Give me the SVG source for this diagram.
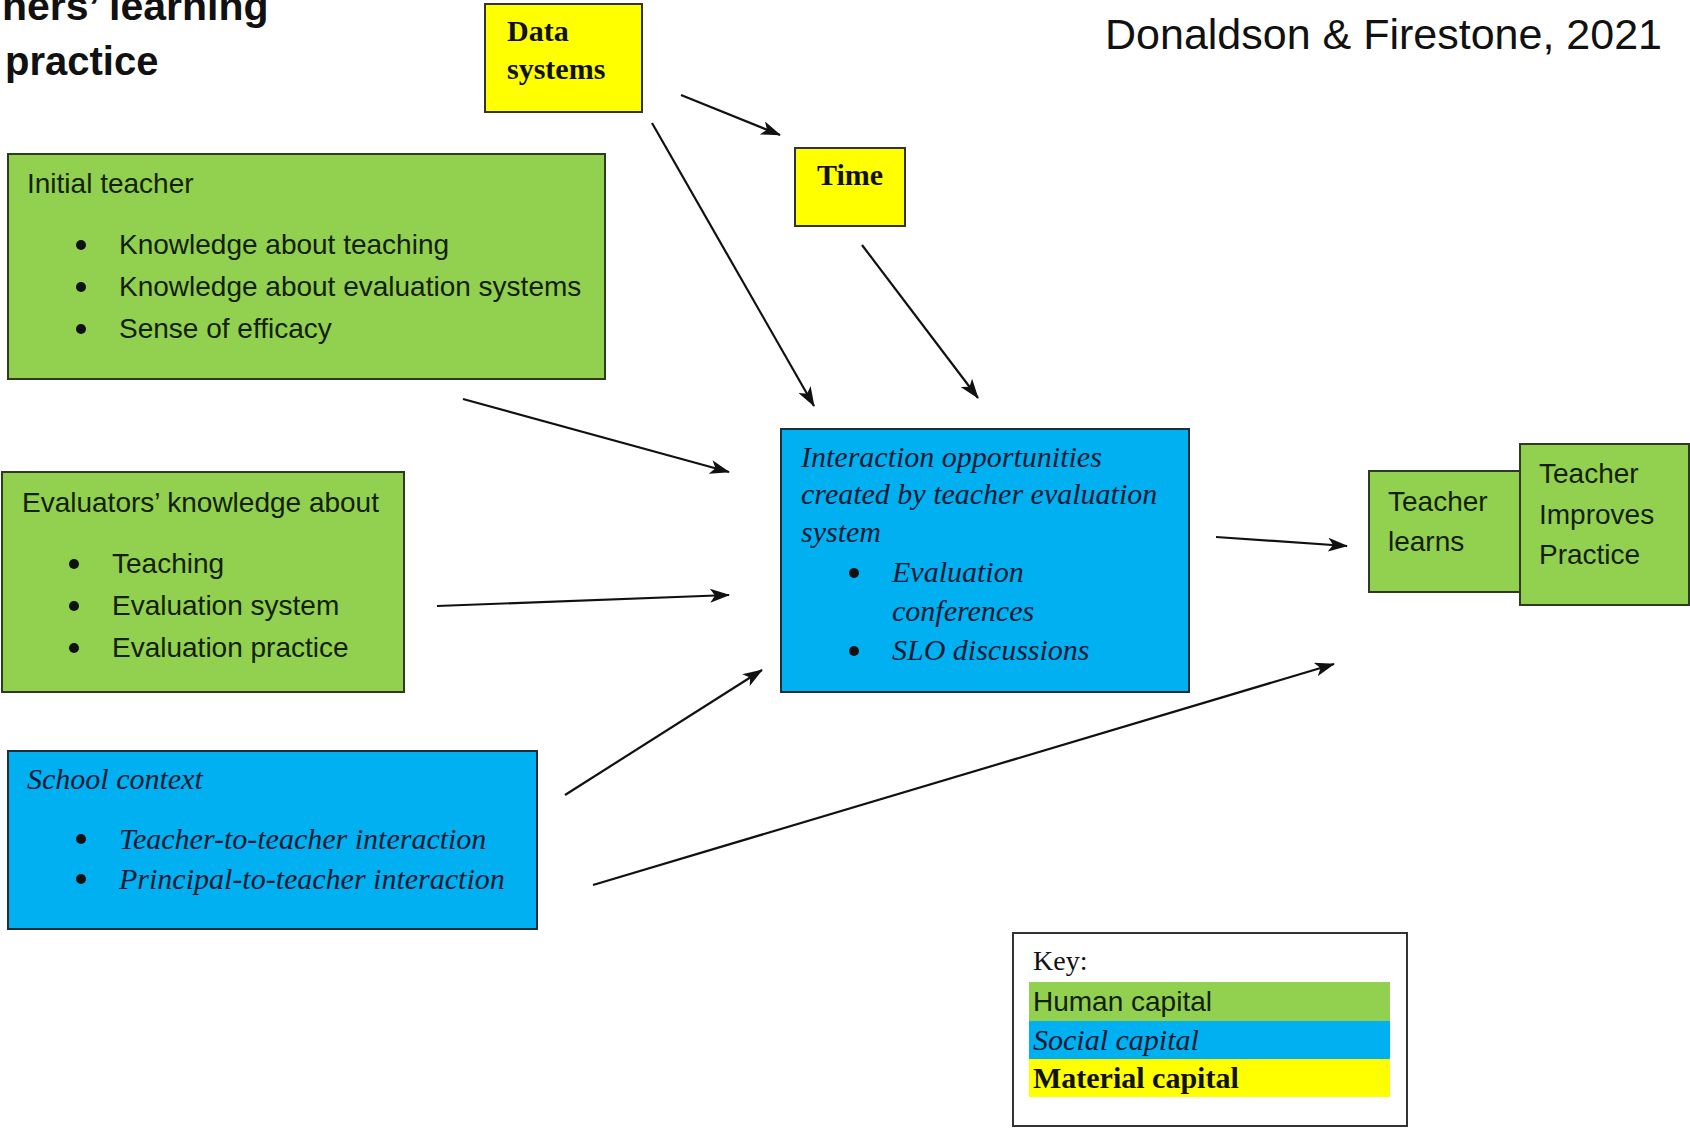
<svg xmlns="http://www.w3.org/2000/svg" width="1690" height="1128" viewBox="0 0 1690 1128">
<style>
.bg{fill:#ffffff}
.green{fill:#92D050;stroke:#2f3a22;stroke-width:2}
.blue{fill:#00B0F0;stroke:#1d2f3a;stroke-width:2}
.yellow{fill:#FFFF00;stroke:#333;stroke-width:2}
.sans{font-family:"Liberation Sans",Arial,sans-serif;fill:#14200a;font-size:28px}
.serifi{font-family:"Liberation Serif","Times New Roman",serif;font-style:italic;fill:#0b1a33;font-size:30px}
.serifb{font-family:"Liberation Serif","Times New Roman",serif;font-weight:bold;fill:#111;font-size:30px}
.bul{fill:#111}
.conn{stroke:#111;stroke-width:2.2;fill:none;marker-end:url(#arr)}
</style>
<defs>
<marker id="arr" viewBox="0 0 20 14" refX="19" refY="7" markerWidth="20" markerHeight="14" markerUnits="userSpaceOnUse" orient="auto">
<path d="M0,0 L20,7 L0,14 L5,7 Z" fill="#111"/>
</marker>
</defs>
<rect class="bg" x="0" y="0" width="1690" height="1128"/>

<g id="title">
<text x="2" y="20" font-family="'Liberation Sans',Arial,sans-serif" font-weight="bold" font-size="41" fill="#111">hers’ learning</text>
<text x="5" y="75" font-family="'Liberation Sans',Arial,sans-serif" font-weight="bold" font-size="40" fill="#111">practice</text>
</g>
<g id="citation">
<text x="1105" y="49" font-family="'Liberation Sans',Arial,sans-serif" font-size="43" fill="#111">Donaldson &amp; Firestone, 2021</text>
</g>

<g id="data-systems">
<rect class="yellow" x="485" y="4" width="157" height="108"/>
<text class="serifb" x="507" y="41">Data</text>
<text class="serifb" x="507" y="79">systems</text>
</g>

<g id="time">
<rect class="yellow" x="795" y="148" width="110" height="78"/>
<text class="serifb" x="850" y="185" text-anchor="middle">Time</text>
</g>

<g id="initial-teacher">
<rect class="green" x="8" y="154" width="597" height="225"/>
<text class="sans" x="27" y="193">Initial teacher</text>
<circle class="bul" cx="81" cy="245" r="5"/>
<text class="sans" x="119" y="254">Knowledge about teaching</text>
<circle class="bul" cx="81" cy="287" r="5"/>
<text class="sans" x="119" y="296">Knowledge about evaluation systems</text>
<circle class="bul" cx="81" cy="329" r="5"/>
<text class="sans" x="119" y="338">Sense of efficacy</text>
</g>

<g id="evaluators">
<rect class="green" x="2" y="472" width="402" height="220"/>
<text class="sans" x="22" y="512">Evaluators’ knowledge about</text>
<circle class="bul" cx="74" cy="564" r="5"/>
<text class="sans" x="112" y="573">Teaching</text>
<circle class="bul" cx="74" cy="606" r="5"/>
<text class="sans" x="112" y="615">Evaluation system</text>
<circle class="bul" cx="74" cy="648" r="5"/>
<text class="sans" x="112" y="657">Evaluation practice</text>
</g>

<g id="school-context">
<rect class="blue" x="8" y="751" width="529" height="178"/>
<text class="serifi" x="27" y="789">School context</text>
<circle class="bul" cx="81" cy="839" r="5"/>
<text class="serifi" x="119" y="849">Teacher-to-teacher interaction</text>
<circle class="bul" cx="81" cy="879" r="5"/>
<text class="serifi" x="119" y="889">Principal-to-teacher interaction</text>
</g>

<g id="interaction">
<rect class="blue" x="781" y="429" width="408" height="263"/>
<text class="serifi" x="801" y="467">Interaction opportunities</text>
<text class="serifi" x="801" y="504">created by teacher evaluation</text>
<text class="serifi" x="801" y="542">system</text>
<circle class="bul" cx="854" cy="573" r="5"/>
<text class="serifi" x="892" y="582">Evaluation</text>
<text class="serifi" x="892" y="621">conferences</text>
<circle class="bul" cx="854" cy="651" r="5"/>
<text class="serifi" x="892" y="660">SLO discussions</text>
</g>

<g id="teacher-learns">
<rect class="green" x="1369" y="471" width="151" height="121"/>
<text class="sans" x="1388" y="511">Teacher</text>
<text class="sans" x="1388" y="551">learns</text>
</g>

<g id="teacher-improves">
<rect class="green" x="1520" y="444" width="169" height="161"/>
<text class="sans" x="1539" y="483">Teacher</text>
<text class="sans" x="1539" y="524">Improves</text>
<text class="sans" x="1539" y="564">Practice</text>
</g>

<g id="key">
<rect x="1013" y="933" width="394" height="193" fill="#fff" stroke="#333" stroke-width="2"/>
<text x="1033" y="970" font-family="'Liberation Serif','Times New Roman',serif" font-size="28" fill="#111">Key:</text>
<rect x="1029" y="982" width="361" height="39" fill="#92D050"/>
<rect x="1029" y="1021" width="361" height="38" fill="#00B0F0"/>
<rect x="1029" y="1059" width="361" height="38" fill="#FFFF00"/>
<text class="sans" x="1033" y="1011">Human capital</text>
<text class="serifi" x="1033" y="1050">Social capital</text>
<text class="serifb" x="1033" y="1088">Material capital</text>
</g>

<g id="connectors">
<line class="conn" x1="681" y1="95" x2="780" y2="135"/>
<line class="conn" x1="652" y1="123" x2="814" y2="406"/>
<line class="conn" x1="862" y1="245" x2="978" y2="398"/>
<line class="conn" x1="463" y1="399" x2="729" y2="472"/>
<line class="conn" x1="437" y1="606" x2="729" y2="595"/>
<line class="conn" x1="565" y1="795" x2="762" y2="670"/>
<line class="conn" x1="593" y1="885" x2="1334" y2="664"/>
<line class="conn" x1="1216" y1="537" x2="1347" y2="546"/>
</g>
</svg>
